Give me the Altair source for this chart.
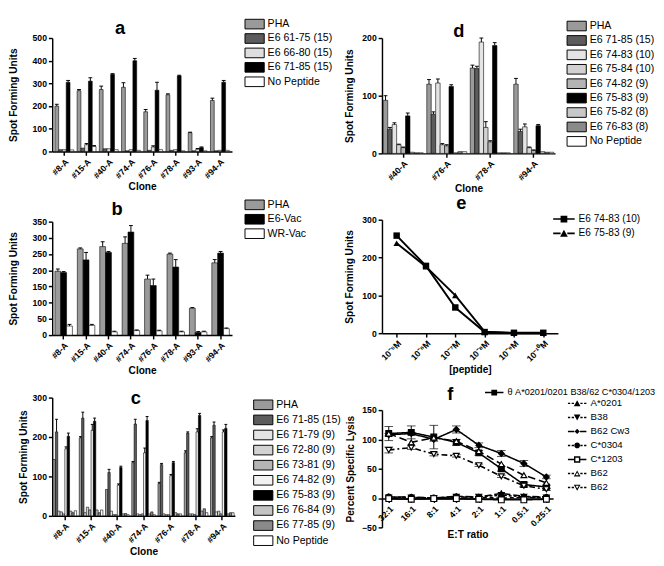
import altair as alt
import pandas as pd

FONT = "Liberation Sans"

# ---------------- panel a ----------------
a_clones = ["#8-A", "#15-A", "#40-A", "#74-A", "#76-A", "#78-A", "#93-A", "#94-A"]
a_series = ["PHA", "E6 61-75 (15)", "E6 66-80 (15)", "E6 71-85 (15)", "No Peptide"]
a_pha = [200, 268, 273, 283, 175, 250, 83, 225]
a_6175 = [8, 15, 12, 3, 5, 5, 3, 3]
a_6680 = [8, 30, 12, 8, 20, 8, 10, 5]
a_7185 = [305, 310, 340, 400, 270, 333, 17, 305]
a_nopep = [7, 22, 8, 5, 8, 3, 3, 5]
a_pha_err = [8, 5, 15, 20, 10, 4, 2, 10]
a_6175_err = [0, 0, 0, 0, 0, 0, 0, 0]
a_6680_err = [0, 5, 0, 0, 5, 0, 3, 0]
a_7185_err = [8, 15, 3, 10, 35, 3, 3, 8]
a_nopep_err = [0, 4, 0, 0, 0, 0, 0, 0]
a_fills = ["#9a9a9a", "#5c5c5c", "#dedede", "#000000", "#ffffff"]

# ---------------- panel b ----------------
b_clones = ["#8-A", "#15-A", "#40-A", "#74-A", "#76-A", "#78-A", "#93-A", "#94-A"]
b_series = ["PHA", "E6-Vac", "WR-Vac"]
b_pha = [197, 266, 273, 283, 173, 250, 83, 223]
b_e6 = [193, 232, 255, 318, 153, 210, 8, 253]
b_wr = [28, 30, 10, 14, 13, 10, 10, 20]
b_pha_err = [7, 3, 15, 20, 12, 3, 2, 10]
b_e6_err = [3, 23, 3, 20, 20, 23, 3, 5]
b_wr_err = [5, 3, 2, 2, 2, 2, 2, 2]
b_fills = ["#9a9a9a", "#000000", "#ffffff"]

# ---------------- panel c ----------------
c_clones = ["#8-A", "#15-A", "#40-A", "#74-A", "#76-A", "#78-A", "#94-A"]
c_series = ["PHA", "E6 71-85 (15)", "E6 71-79 (9)", "E6 72-80 (9)", "E6 73-81 (9)",
            "E6 74-82 (9)", "E6 75-83 (9)", "E6 76-84 (9)", "E6 77-85 (9)", "No Peptide"]
c_pha = [143, 198, 67, 135, 82, 160, 198]
c_7185 = [213, 248, 110, 233, 130, 210, 230]
c_7179 = [12, 8, 12, 5, 5, 5, 10]
c_7280 = [10, 22, 3, 3, 3, 5, 12]
c_7381 = [5, 15, 3, 5, 3, 3, 5]
c_7482 = [170, 217, 78, 160, 102, 213, 213]
c_7583 = [202, 240, 123, 242, 135, 255, 222]
c_7684 = [12, 15, 5, 5, 8, 12, 5]
c_7785 = [8, 8, 6, 10, 5, 18, 8]
c_nopep = [13, 15, 3, 3, 5, 8, 8]
c_pha_err = [0, 3, 0, 3, 3, 5, 3]
c_7185_err = [32, 15, 8, 12, 3, 3, 8]
c_7482_err = [5, 15, 3, 12, 3, 8, 5]
c_7583_err = [8, 8, 3, 10, 3, 5, 10]
c_zero_err = [0, 0, 0, 0, 0, 0, 0]
c_fills = ["#9a9a9a", "#5c5c5c", "#e4e4e4", "#d2d2d2", "#b4b4b4",
           "#f2f2f2", "#000000", "#c4c4c4", "#8a8a8a", "#ffffff"]

# ---------------- panel d ----------------
d_clones = ["#40-A", "#76-A", "#78-A", "#94-A"]
d_series = ["PHA", "E6 71-85 (15)", "E6 74-83 (10)", "E6 75-84 (10)", "E6 74-82 (9)",
            "E6 75-83 (9)", "E6 75-82 (8)", "E6 76-83 (8)", "No Peptide"]
d_pha = [92, 120, 148, 120]
d_7185 = [42, 68, 147, 38]
d_7483 = [50, 122, 193, 46]
d_7584 = [15, 15, 45, 10]
d_7482 = [10, 13, 20, 5]
d_7583 = [65, 116, 187, 48]
d_7582 = [2, 1, 1, 3]
d_7683 = [1, 3, 1, 2]
d_nopep = [1, 3, 1, 2]
d_pha_err = [8, 8, 5, 10]
d_7185_err = [3, 4, 4, 4]
d_7483_err = [3, 7, 7, 5]
d_7584_err = [1, 2, 10, 1]
d_7482_err = [1, 2, 2, 1]
d_7583_err = [5, 3, 5, 2]
d_zero_err = [0, 0, 0, 0]
d_fills = ["#9a9a9a", "#5c5c5c", "#e4e4e4", "#d2d2d2", "#b4b4b4",
           "#000000", "#c8c8c8", "#8a8a8a", "#ffffff"]

# ---------------- panel e ----------------
e_conc = ["10⁻⁵M", "10⁻⁶M", "10⁻⁷M", "10⁻⁸M", "10⁻⁹M", "10⁻¹⁰M"]
e_series = ["E6 74-83 (10)", "E6 75-83 (9)"]
e_7483 = [258, 178, 68, 3, 1, 1]
e_7583 = [238, 176, 100, 4, 0, 0]

# ---------------- panel f ----------------
f_ratio = ["32:1", "16:1", "8:1", "4:1", "2:1", "1:1", "0.5:1", "0.25:1"]
f_ids = ["s1", "s2", "s3", "s4", "s5", "s6", "s7", "s8"]
f_labels = ["θ A*0201/0201 B38/62 C*0304/1203", "A*0201", "B38", "B62 Cw3",
            "C*0304", "C*1203", "B62", "B62"]
f_theta = [110, 112, 104, 95, 77, 50, 23, 19]
f_a0201 = [2, 2, 0, 3, 2, 8, 3, 2]
f_b38 = [1, 1, 0, 2, 2, 5, 2, 1]
f_b62cw3 = [108, 110, 100, 117, 90, 76, 59, 36]
f_c0304 = [2, 1, 0, 2, 1, 0, 1, 1]
f_c1203 = [-1, -2, -1, -1, -2, -3, -3, -2]
f_b62a = [110, 95, 103, 97, 80, 58, 39, 26]
f_b62b = [82, 86, 75, 72, 56, 37, 21, 15]
f_theta_err = [12, 11, 20, 5, 4, 4, 4, 3]
f_b62cw3_err = [2, 2, 3, 6, 4, 5, 5, 3]
f_b62b_err = [5, 3, 3, 2, 2, 2, 2, 2]
f_zero_err = [0, 0, 0, 0, 0, 0, 0, 0]
f_dashes = [[1, 0], [7, 3], [3, 2], [1, 0], [4, 3], [1, 0], [8, 4], [6, 3, 2, 3]]
f_shapes = ["square", "triangle-up", "triangle-down", "diamond", "circle",
            "square", "triangle-up", "triangle-down"]
f_fills = ["black", "black", "black", "black", "black", "white", "white", "white"]

# legend symbol outlines (filled paths, unit = sqrt(size)/2 px)
RECT = "M-2,-1H2V1H-2Z"


def hrect(x1, x2):
    return f"M{x1},-0.25H{x2}V0.25H{x1}Z"


SOLID = hrect(-3.2, -1) + hrect(1, 3.2)
DASH = hrect(-3.2, -2.4) + hrect(-1.9, -1.1) + hrect(1.1, 1.9) + hrect(2.4, 3.2)
SQ = "M-1,-1H1V1H-1Z"
SQ_O = "M-1.1,-1.1H1.1V1.1H-1.1Z" + "M-0.6,-0.6V0.6H0.6V-0.6Z"
TU = "M-1.15,1L0,-1.1L1.15,1Z"
TU_O = TU + "M-0.55,0.62L0.55,0.62L0,-0.35Z"
TD = "M-1.15,-1L0,1.1L1.15,-1Z"
TD_O = TD + "M-0.55,-0.62L0.55,-0.62L0,0.35Z"
DM = "M0,-0.9L0.9,0L0,0.9L-0.9,0Z"
CI = "M-1,0A1,1 0 1,0 1,0A1,1 0 1,0 -1,0Z"

f_legend_paths = [SOLID + SQ, DASH + TU, DASH + TD, SOLID + DM,
                  DASH + CI, SOLID + SQ_O, DASH + TU_O, DASH + TD_O]
e_legend_paths = [SOLID + SQ, SOLID + TU]


def title_params(text, dx, offset):
    return alt.TitleParams(text, font=FONT, fontSize=19, fontWeight="bold", color="black",
                           anchor="middle", frame="group", dx=dx, offset=offset)


def bar_panel(clones, names, values, errors, fills, ymax, yticks, width, height, title,
              title_dx, title_offset, legend_x, legend_y, row_pad, pad_inner, pad_outer,
              cap, ytitle_pad):
    rows = []
    for n, vals, errs in zip(names, values, errors):
        for c, v, e in zip(clones, vals, errs):
            rows.append({"clone": c, "series": n, "value": v, "top": v + e, "err": e})
    df = pd.DataFrame(rows)
    x = alt.X("clone:N", sort=clones,
              scale=alt.Scale(paddingInner=pad_inner, paddingOuter=pad_outer),
              axis=alt.Axis(title="Clone", labelAngle=-45, titlePadding=2))
    xo = alt.XOffset("series:N", sort=names)
    yaxis = alt.Axis(title="Spot Forming Units", values=yticks, titlePadding=ytitle_pad)
    y = alt.Y("value:Q", scale=alt.Scale(domain=[0, ymax], nice=False), axis=yaxis)
    legend = alt.Legend(orient="none", legendX=legend_x, legendY=legend_y, title=None,
                        symbolType=RECT, symbolSize=100, symbolStrokeColor="black",
                        symbolStrokeWidth=1, labelFont=FONT, labelFontSize=11,
                        labelColor="black", rowPadding=row_pad, labelOffset=8)
    bars = alt.Chart(df).mark_bar(stroke="black", strokeWidth=0.6).encode(
        x=x, xOffset=xo, y=y,
        fill=alt.Fill("series:N", sort=names, scale=alt.Scale(domain=names, range=fills),
                      legend=legend))
    edf = df[df["err"] > 0]
    stem = alt.Chart(edf).mark_rule(color="black", strokeWidth=1).encode(
        x=x, xOffset=xo, y=y, y2="top:Q")
    caps = alt.Chart(edf).mark_point(shape="stroke", size=cap * cap, stroke="black",
                                     strokeWidth=1, opacity=1).encode(
        x=x, xOffset=xo, y=alt.Y("top:Q", axis=yaxis))
    return alt.layer(bars, stem, caps).properties(
        width=width, height=height, title=title_params(title, title_dx, title_offset))


chart_a = bar_panel(a_clones, a_series, [a_pha, a_6175, a_6680, a_7185, a_nopep],
                    [a_pha_err, a_6175_err, a_6680_err, a_7185_err, a_nopep_err],
                    a_fills, 500, [0, 100, 200, 300, 400, 500], 187, 118, "a",
                    -23, -20, 205, -20, 0, 0.15, 0.12, 4, 14)
chart_b = bar_panel(b_clones, b_series, [b_pha, b_e6, b_wr],
                    [b_pha_err, b_e6_err, b_wr_err],
                    b_fills, 350, [0, 50, 100, 150, 200, 250, 300, 350], 187, 118, "b",
                    -26, -20, 205, -23, 0, 0.22, 0.12, 4, 14)
chart_c = bar_panel(c_clones, c_series,
                    [c_pha, c_7185, c_7179, c_7280, c_7381, c_7482, c_7583, c_7684, c_7785, c_nopep],
                    [c_pha_err, c_7185_err, c_zero_err, c_zero_err, c_zero_err, c_7482_err,
                     c_7583_err, c_zero_err, c_zero_err, c_zero_err],
                    c_fills, 300, [0, 100, 200, 300], 190, 123, "c",
                    -8, -15, 214, 2, 0.7, 0.1, 0.03, 3, 4)
chart_d = bar_panel(d_clones, d_series,
                    [d_pha, d_7185, d_7483, d_7584, d_7482, d_7583, d_7582, d_7683, d_nopep],
                    [d_pha_err, d_7185_err, d_7483_err, d_7584_err, d_7482_err, d_7583_err,
                     d_zero_err, d_zero_err, d_zero_err],
                    d_fills, 200, [0, 100, 200], 180, 120, "d",
                    -10, -21, 197, -18, 0, 0.08, 0.03, 4, 8)

# ---------------- e chart ----------------
e_rows = []
for s, vals in zip(e_series, [e_7483, e_7583]):
    for cc, v in zip(e_conc, vals):
        e_rows.append({"conc": cc, "series": s, "value": v})
edf = pd.DataFrame(e_rows)
ex = alt.X("conc:N", sort=e_conc, scale=alt.Scale(type="point", domain=e_conc, padding=0.5),
           axis=alt.Axis(title="[peptide]", labelAngle=-45, titlePadding=2))
ey = alt.Y("value:Q", scale=alt.Scale(domain=[0, 300], nice=False),
           axis=alt.Axis(title="Spot Forming Units", values=[0, 100, 200, 300], titlePadding=8))
e_lines = alt.Chart(edf).mark_line(color="black", strokeWidth=2).encode(x=ex, y=ey, detail="series:N")
e_pts = alt.Chart(edf).mark_point(filled=True, color="black", opacity=1, size=45).encode(
    x=ex, y=ey,
    shape=alt.Shape("series:N", scale=alt.Scale(domain=e_series, range=["square", "triangle-up"]),
                    legend=None))
e_legend = alt.Legend(orient="none", legendX=184, legendY=-6, title=None, symbolSize=49,
                      symbolOpacity=1, symbolStrokeWidth=0, symbolFillColor="black",
                      labelFont=FONT, labelFontSize=10.5,
                      labelColor="black", rowPadding=4, labelOffset=10)
e_leg = alt.Chart(edf).mark_point(filled=True, color="black", opacity=0).encode(
    x=ex, y=ey,
    shape=alt.Shape("series:N", scale=alt.Scale(domain=e_series, range=e_legend_paths),
                    legend=e_legend))
chart_e = alt.layer(e_lines, e_pts, e_leg).resolve_scale(shape="independent").properties(
    width=183, height=118, title=title_params("e", -9, 1))

# ---------------- f chart ----------------
f_rows = []
f_vals = [f_theta, f_a0201, f_b38, f_b62cw3, f_c0304, f_c1203, f_b62a, f_b62b]
f_errs = [f_theta_err, f_zero_err, f_zero_err, f_b62cw3_err, f_zero_err, f_zero_err,
          f_zero_err, f_b62b_err]
for sid, vals, errs in zip(f_ids, f_vals, f_errs):
    for r, v, e in zip(f_ratio, vals, errs):
        f_rows.append({"ratio": r, "sid": sid, "value": v, "lo": v - e, "hi": v + e, "err": e})
fdf = pd.DataFrame(f_rows)
fx = alt.X("ratio:N", sort=f_ratio, scale=alt.Scale(type="point", domain=f_ratio, padding=0.3),
           axis=alt.Axis(title="E:T ratio", labelAngle=-45, offset=-30, titlePadding=2,
                         labelColor="black"))
fyaxis = alt.Axis(title="Percent Specific Lysis", values=[-50, 0, 50, 100, 150], titlePadding=6)
fy = alt.Y("value:Q", scale=alt.Scale(domain=[-50, 150], nice=False), axis=fyaxis)
f_lines = alt.Chart(fdf).mark_line(color="black", strokeWidth=1.6).encode(
    x=fx, y=fy, detail="sid:N",
    strokeDash=alt.StrokeDash("sid:N", scale=alt.Scale(domain=f_ids, range=f_dashes), legend=None))
f_pts = alt.Chart(fdf).mark_point(filled=True, stroke="black", strokeWidth=1.2, opacity=1, size=36).encode(
    x=fx, y=fy,
    shape=alt.Shape("sid:N", scale=alt.Scale(domain=f_ids, range=f_shapes), legend=None),
    fill=alt.Fill("sid:N", scale=alt.Scale(domain=f_ids, range=f_fills), legend=None))
fedf = fdf[fdf["err"] > 0]
f_rule = alt.Chart(fedf).mark_rule(color="black", strokeWidth=1).encode(x=fx, y=fy, y2="hi:Q")
f_rule2 = alt.Chart(fedf).mark_rule(color="black", strokeWidth=1).encode(x=fx, y=fy, y2="lo:Q")
f_cap_hi = alt.Chart(fedf).mark_tick(color="black", thickness=1, size=9).encode(
    x=fx, y=alt.Y("hi:Q", axis=fyaxis))
f_cap_lo = alt.Chart(fedf).mark_tick(color="black", thickness=1, size=9).encode(
    x=fx, y=alt.Y("lo:Q", axis=fyaxis))

label_expr = " : ".join(
    [f"datum.value == '{i}' ? '{l}'" for i, l in zip(f_ids, f_labels)]) + " : ''"


def f_legend(x, y, fs):
    return alt.Legend(orient="none", legendX=x, legendY=y, title=None, symbolSize=36,
                      symbolOpacity=1, symbolStrokeWidth=0, symbolFillColor="black",
                      labelFont=FONT, labelFontSize=fs, labelColor="black", rowPadding=4.6,
                      labelOffset=9, labelExpr=label_expr, labelLimit=300)


df1 = fdf[fdf["sid"] == "s1"]
df2 = fdf[fdf["sid"] != "s1"]
f_leg1 = alt.Chart(df1).mark_point(filled=True, color="black", opacity=0).encode(
    x=fx, y=fy,
    shape=alt.Shape("sid:N", scale=alt.Scale(domain=f_ids[:1], range=f_legend_paths[:1]),
                    legend=f_legend(112, -23, 9.5)))
f_leg2 = alt.Chart(df2).mark_point(filled=True, color="black", opacity=0).encode(
    x=fx, y=fy,
    shape=alt.Shape("sid:N", scale=alt.Scale(domain=f_ids[1:], range=f_legend_paths[1:]),
                    legend=f_legend(198, -12, 10)))
chart_f = alt.layer(f_lines, f_rule, f_rule2, f_cap_hi, f_cap_lo, f_pts, f_leg1, f_leg2).resolve_scale(
    shape="independent", fill="independent", strokeDash="independent").properties(
    width=178, height=122, title=title_params("f", -18, -16))

RES = dict(fill="independent", shape="independent", strokeDash="independent",
           xOffset="independent")

left_top = alt.vconcat(chart_a, chart_b, spacing=7).resolve_scale(**RES)
left = alt.vconcat(left_top, chart_c, spacing=14).resolve_scale(**RES)
right_top = alt.vconcat(chart_d, chart_e, spacing=0).resolve_scale(**RES)
right = alt.vconcat(right_top, chart_f, spacing=10).resolve_scale(**RES)

chart = alt.hconcat(left, right, spacing=2).resolve_scale(**RES).properties(
    padding=0, background="white").configure_view(stroke=None).configure_axis(
    domainColor="black", domainWidth=1.5, tickColor="black", tickWidth=1.5, tickSize=4,
    labelColor="black", labelFont=FONT, labelFontSize=9, labelFontWeight="bold",
    titleColor="black", titleFont=FONT, titleFontSize=10.5, titleFontWeight="bold",
    grid=False, labelPadding=2)

chart.save("out.html", embed_options={"renderer": "svg", "actions": False})
